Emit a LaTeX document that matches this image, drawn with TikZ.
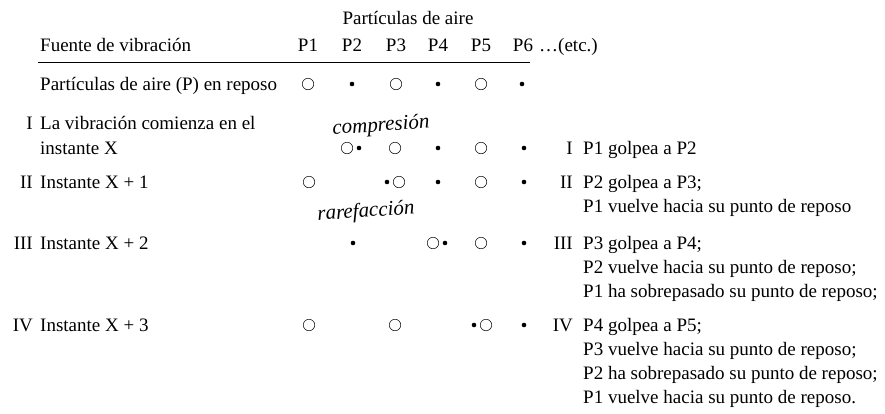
\documentclass[tikz,border=0pt]{standalone}
\usepackage{fontspec}
\setmainfont{Liberation Serif}
\usetikzlibrary{positioning}

\tikzset{
  txt/.style={inner sep=0pt, font=\fontsize{19}{23}\selectfont},
  hand/.style={inner sep=0pt, font=\fontsize{21}{23}\selectfont\itshape},
  ring/.style={circle, draw, line width=0.5pt, minimum size=11.5pt, inner sep=0pt},
  spot/.style={circle, fill, minimum size=4.6pt, inner sep=0pt}
}

\begin{document}
\begin{tikzpicture}[x=1pt, y=-1pt]
  \useasboundingbox (0,0) rectangle (885,413);
  % Header
  \node[txt, anchor=base] (title) at (408,24) {Partículas de aire};
  \node[txt, anchor=base west] (src) at (40,51) {Fuente de vibración};
  \node[txt, anchor=base] (h1) at (308,51) {P1};
  \node[txt, anchor=base] (h2) at (352,51) {P2};
  \node[txt, anchor=base] (h3) at (396,51) {P3};
  \node[txt, anchor=base] (h4) at (438,51) {P4};
  \node[txt, anchor=base] (h5) at (481,51) {P5};
  \node[txt, anchor=base] (h6) at (523,51) {P6};
  \node[txt, anchor=base west] (etc) at (539,51) {\dots(etc.)};
  \coordinate (ruleL) at (38,62);
  \coordinate (ruleR) at (530,62);
  \draw[line width=0.8pt] (ruleL) -- (ruleR);

  % Rest
  \node[txt, anchor=base west] (rest) at (40,90) {Partículas de aire (P) en reposo};
  \node[ring] (a1) at (308,84) {};
  \node[spot] (a2) at (352,84) {};
  \node[ring] (a3) at (396,84) {};
  \node[spot] (a4) at (438,84) {};
  \node[ring] (a5) at (481,84) {};
  \node[spot] (a6) at (522,84) {};

  % Row I
  \node[txt, anchor=base east] (n1) at (33,129) {I};
  \node[txt, anchor=base west] (l1) at (40,129) {La vibración comienza en el};
  \node[txt, anchor=base west] (l1b) at (40,154) {instante X};
  \node[hand, rotate=4] (w1) at (381,126) {compresión};
  \node[ring] (b1) at (347,148) {};
  \node[spot] (b2) at (359,148) {};
  \node[ring] (b3) at (395,148) {};
  \node[spot] (b4) at (438,148) {};
  \node[ring] (b5) at (481,148) {};
  \node[spot] (b6) at (524,148) {};
  \node[txt, anchor=base east] (m1) at (573,154) {I};
  \node[txt, anchor=base west] (r1) at (583,154) {P1 golpea a P2};

  % Row II
  \node[txt, anchor=base east] (n2) at (33,188) {II};
  \node[txt, anchor=base west] (l2) at (40,188) {Instante X + 1};
  \node[ring] (c1) at (309,182) {};
  \node[spot] (c2) at (387,182) {};
  \node[ring] (c3) at (399,182) {};
  \node[spot] (c4) at (438,182) {};
  \node[ring] (c5) at (481,182) {};
  \node[spot] (c6) at (524,182) {};
  \node[hand, rotate=4] (w2) at (366,212) {rarefacción};
  \node[txt, anchor=base east] (m2) at (573,188) {II};
  \node[txt, anchor=base west] (r2) at (583,188) {P2 golpea a P3;};
  \node[txt, anchor=base west] (r2b) at (583,212) {P1 vuelve hacia su punto de reposo};

  % Row III
  \node[txt, anchor=base east] (n3) at (33,249) {III};
  \node[txt, anchor=base west] (l3) at (40,249) {Instante X + 2};
  \node[spot] (d2) at (353,243) {};
  \node[ring] (d3) at (433,243) {};
  \node[spot] (d4) at (445,243) {};
  \node[ring] (d5) at (481,243) {};
  \node[spot] (d6) at (524,243) {};
  \node[txt, anchor=base east] (m3) at (573,249) {III};
  \node[txt, anchor=base west] (r3) at (583,249) {P3 golpea a P4;};
  \node[txt, anchor=base west] (r3b) at (583,273) {P2 vuelve hacia su punto de reposo;};
  \node[txt, anchor=base west] (r3c) at (583,297) {P1 ha sobrepasado su punto de reposo;};

  % Row IV
  \node[txt, anchor=base east] (n4) at (33,331) {IV};
  \node[txt, anchor=base west] (l4) at (40,331) {Instante X + 3};
  \node[ring] (e1) at (309,325) {};
  \node[ring] (e3) at (395,325) {};
  \node[spot] (e4) at (474,325) {};
  \node[ring] (e5) at (486,325) {};
  \node[spot] (e6) at (524,325) {};
  \node[txt, anchor=base east] (m4) at (573,331) {IV};
  \node[txt, anchor=base west] (r4) at (583,331) {P4 golpea a P5;};
  \node[txt, anchor=base west] (r4b) at (583,355) {P3 vuelve hacia su punto de reposo;};
  \node[txt, anchor=base west] (r4c) at (583,379) {P2 ha sobrepasado su punto de reposo;};
  \node[txt, anchor=base west] (r4d) at (583,403) {P1 vuelve hacia su punto de reposo.};
\end{tikzpicture}
\end{document}
